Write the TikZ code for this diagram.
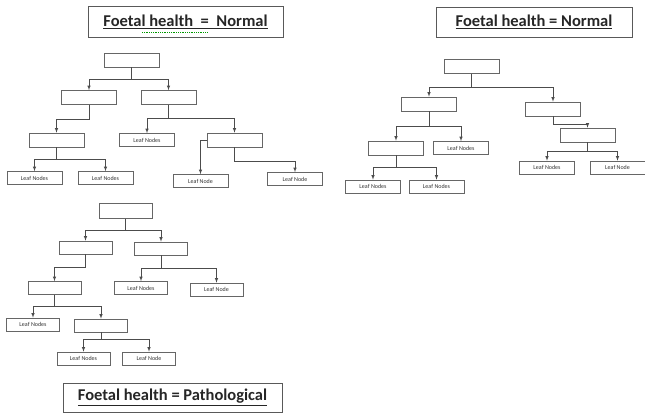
\documentclass[tikz,border=0pt]{standalone}
\usepackage{fontspec}
\setmainfont{Carlito}
\usepackage{tikz}
\usetikzlibrary{shapes,arrows}

\tikzset{
  box/.style={shape=rectangle, draw=gray!80!black, line width=0.6pt, minimum width=55pt, minimum height=14pt, inner sep=0pt},
  sbox/.style={box, minimum width=53pt, minimum height=13pt},
  leaf/.style={box, minimum height=13pt, font=\fontsize{6}{7}\selectfont, text=black!80},
  sleaf/.style={leaf, minimum width=53pt},
  title/.style={shape=rectangle, draw=gray!70!black, line width=0.8pt, inner sep=0pt, font=\bfseries\fontsize{16.5}{18}\selectfont, text=black!85},
  edge/.style={draw=gray!60!black, line width=0.6pt, -latex}
}

\begin{document}
\begin{tikzpicture}[x=1pt, y=-1pt]
\useasboundingbox (0,0) rectangle (645,415);

% titles
\node (title1) at (185.5,21.5) [title, minimum width=195pt, minimum height=31pt] {\underline{Foetal health \ = \ Normal}};
\node (title2) at (534,22) [title, minimum width=196pt, minimum height=30pt] {\underline{Foetal health = Normal}};
\node (title3) at (172.5,397.5) [title, minimum width=219pt, minimum height=29pt] {\underline{Foetal health = Pathological}};
\draw [green!60!black, densely dotted, line width=0.8pt] (142,32) -- (208,32);

% first tree
\node (t1root) at (131.5,60) [box] {};
\node (t1a) at (89,97.5) [box] {};
\node (t1b) at (168.5,97.5) [box] {};
\node (t1c) at (56.5,140) [box] {};
\node (t1leafA) at (147,140) [leaf] {Leaf Nodes};
\node (t1d) at (234.5,140) [box] {};
\node (t1leafB) at (34.5,178) [leaf] {Leaf Nodes};
\node (t1leafC) at (105.5,178) [leaf] {Leaf Nodes};
\node (t1leafD) at (200.5,181) [leaf] {Leaf Node};
\node (t1leafE) at (295,179) [leaf] {Leaf Node};

\draw [edge] (t1root.south) -- ++(0,12) -| (t1a.north);
\draw [edge] (t1root.south) -- ++(0,12) -| (t1b.north);
\draw [edge] (t1a.south) -- ++(0,14) -| (t1c.north);
\draw [edge] (t1b.south) -- ++(0,13) -| (t1leafA.north);
\draw [edge] (t1b.south) -- ++(0,13) -| (t1d.north);
\draw [edge] (t1c.south) -- ++(0,12) -| (t1leafB.north);
\draw [edge] (t1c.south) -- ++(0,12) -| (t1leafC.north);
\draw [edge] (t1d.west) -| (t1leafD.north);
\draw [edge] (t1d.south) -- ++(0,14) -| (t1leafE.north);

% second tree
\node (t2root) at (471.5,66.5) [box] {};
\node (t2a) at (429,104) [box] {};
\node (t2b) at (553,109) [box] {};
\node (t2c) at (396,148) [box] {};
\node (t2leafA) at (461,148) [leaf] {Leaf Nodes};
\node (t2leafB) at (373,186.5) [leaf] {Leaf Nodes};
\node (t2leafC) at (436.5,186.5) [leaf] {Leaf Nodes};
\node (t2d) at (587.5,135) [box] {};
\node (t2leafD) at (547,167.5) [leaf] {Leaf Nodes};
\node (t2leafE) at (617.5,167.5) [leaf] {Leaf Node};

\draw [edge] (t2root.south) -- ++(0,13) -| (t2a.north);
\draw [edge] (t2root.south) -- ++(0,13) -| (t2b.north);
\draw [edge] (t2a.south) -- ++(0,15) -| (t2c.north);
\draw [edge] (t2a.south) -- ++(0,15) -| (t2leafA.north);
\draw [edge] (t2c.south) -- ++(0,12) -| (t2leafB.north);
\draw [edge] (t2c.south) -- ++(0,12) -| (t2leafC.north);
\draw [edge] (t2b.south) -- ++(0,8) -| (t2d.north);
\draw [edge] (t2d.south) -- ++(0,9) -| (t2leafD.north);
\draw [edge] (t2d.south) -- ++(0,9) -| (t2leafE.north);

% third tree
\node (t3root) at (125.5,211) [sbox, minimum height=15pt] {};
\node (t3a) at (85.5,247.5) [sbox] {};
\node (t3b) at (161,248.5) [sbox] {};
\node (t3c) at (54.5,288) [sbox] {};
\node (t3leafA) at (141,288) [sleaf] {Leaf Nodes};
\node (t3leafB) at (216.5,289.5) [sleaf] {Leaf Node};
\node (t3leafC) at (33,324.5) [sleaf] {Leaf Nodes};
\node (t3d) at (101,325.5) [sbox] {};
\node (t3leafD) at (83.5,358.5) [sleaf] {Leaf Nodes};
\node (t3leafE) at (149,358.5) [sleaf] {Leaf Node};

\draw [edge] (t3root.south) -- ++(0,11) -| (t3a.north);
\draw [edge] (t3root.south) -- ++(0,11) -| (t3b.north);
\draw [edge] (t3a.south) -- ++(0,13) -| (t3c.north);
\draw [edge] (t3b.south) -- ++(0,13) -| (t3leafA.north);
\draw [edge] (t3b.south) -- ++(0,13) -| (t3leafB.north);
\draw [edge] (t3c.south) -- ++(0,11) -| (t3leafC.north);
\draw [edge] (t3c.south) -- ++(0,11) -| (t3d.north);
\draw [edge] (t3d.south) -- ++(0,7) -| (t3leafD.north);
\draw [edge] (t3d.south) -- ++(0,7) -| (t3leafE.north);
\end{tikzpicture}
\end{document}
